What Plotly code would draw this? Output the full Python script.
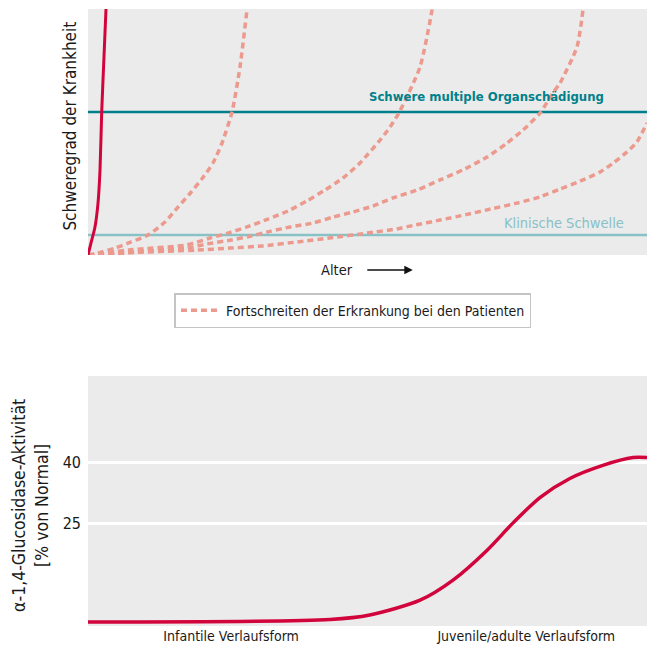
import plotly.graph_objects as go

# ---------------- data ----------------
# Top chart: disease severity vs age (0..100 arbitrary units)
red_x = [0, 0.54, 1.25, 1.79, 2.15, 2.45, 2.85, 3.22, 3.4]
red_y = [0, 4.9, 11.4, 21.1, 34.6, 58.1, 80, 100, 110]

d1_x = [0, 1.79, 4.83, 7.69, 10.73, 13.77, 16.1, 18.25, 20.39, 22.36, 23.97, 25.76, 27.19, 28.44, 28.9]
d1_y = [0, 0.8, 2.8, 5.3, 8.1, 13.4, 19.5, 25.0, 31.0, 37.4, 45.5, 58.1, 76.4, 99.6, 108]

d2_x = [0, 8.05, 17.7, 21.82, 25.04, 28.44, 32.2, 35.78, 39.18, 42.4, 45.62, 48.66, 52.24, 54.03, 55.7, 59.39, 61.54, 62.0]
d2_y = [0, 2.2, 4.1, 6.9, 8.9, 11.4, 14.6, 17.9, 22.0, 26.4, 31.3, 37.4, 46.7, 52.0, 58.1, 76.4, 99.6, 108]

d3_x = [0, 17.7, 21.29, 25.4, 28.98, 32.56, 36.14, 40.25, 43.83, 47.41, 50.98, 54.56, 58.86, 62.97, 67.08,
        71.38, 74.96, 77.82, 80.86, 83.18, 84.44, 87.48, 88.55, 88.9]
d3_y = [0, 2.8, 4.5, 6.0, 7.6, 9.6, 11.4, 13.0, 15.4, 17.5, 19.9, 23.2, 26.4, 30.5, 34.6,
        39.8, 45.5, 50.8, 57.7, 65.9, 69.9, 84.6, 99.6, 108]

d4_x = [0, 8.05, 19.5, 25.4, 31.31, 37.39, 43.83, 49.91, 55.28, 58.14, 62.97, 67.8, 72.45, 76.74, 80.86,
        84.44, 88.01, 91.59, 93.92, 96.42, 98.21, 100]
d4_y = [0, 1.0, 2.0, 2.8, 3.7, 5.3, 7.1, 8.9, 10.6, 12.0, 14.2, 16.5, 18.9, 21.1, 23.6,
        26.8, 30.0, 33.7, 37.3, 41.9, 46.0, 53.7]

severe_level = 58.1
clinical_level = 8.1

# Bottom chart: enzyme activity
act_x = [0, 43.3, 50.4, 59.4, 65.3, 71.4, 76.0, 80.9, 86.2, 92.1, 97.5, 100]
act_y = [1.0, 1.6, 2.7, 6.3, 11.2, 18.5, 25.1, 31.4, 36.0, 39.2, 41.1, 41.1]
act_ticks = [25, 40]
form_ticks = [25.6, 78.4]
form_labels = ["Infantile Verlaufsform", "Juvenile/adulte Verlaufsform"]

FONT = "Liberation Sans Narrow, DejaVu Sans Condensed, Arial Narrow, sans-serif"
DASH_COLOR = "#ec998e"
RED = "#d2043c"
TEAL = "#00808a"
LIGHT_TEAL = "#88c1c6"
BG = "#ebebeb"

fig = go.Figure()

# threshold lines (top chart)
fig.add_trace(go.Scatter(x=[0, 100], y=[severe_level, severe_level], mode="lines",
                         line=dict(color=TEAL, width=2.5), showlegend=False,
                         xaxis="x", yaxis="y", hoverinfo="skip"))
fig.add_trace(go.Scatter(x=[0, 100], y=[clinical_level, clinical_level], mode="lines",
                         line=dict(color=LIGHT_TEAL, width=2.5), showlegend=False,
                         xaxis="x", yaxis="y", hoverinfo="skip"))

dashed = [(d1_x, d1_y), (d2_x, d2_y), (d3_x, d3_y), (d4_x, d4_y)]
for i, (dx, dy) in enumerate(dashed):
    fig.add_trace(go.Scatter(
        x=dx, y=dy, mode="lines",
        line=dict(color=DASH_COLOR, width=3.5, dash="6px,4px", shape="spline", smoothing=0.6),
        name="Fortschreiten der Erkrankung bei den Patienten",
        legendgroup="prog", showlegend=(i == 0),
        xaxis="x", yaxis="y"))

fig.add_trace(go.Scatter(x=red_x, y=red_y, mode="lines",
                         line=dict(color=RED, width=3, shape="spline", smoothing=0.6),
                         showlegend=False, xaxis="x", yaxis="y"))

# bottom chart curve
fig.add_trace(go.Scatter(x=act_x, y=act_y, mode="lines",
                         line=dict(color=RED, width=3.5, shape="spline", smoothing=0.8),
                         showlegend=False, xaxis="x2", yaxis="y2"))

fig.update_layout(
    width=647, height=647,
    margin=dict(l=88, r=0, t=9, b=21),
    paper_bgcolor="white",
    plot_bgcolor=BG,
    font=dict(family=FONT, size=14, color="#1a1a1a"),
    xaxis=dict(domain=[0, 1], range=[0, 100], showgrid=False, zeroline=False,
               showticklabels=False, ticks=""),
    yaxis=dict(domain=[0.6013, 1], range=[0, 100], showgrid=False, zeroline=False,
               showticklabels=False, ticks=""),
    xaxis2=dict(domain=[0, 1], range=[0, 100], anchor="y2", showgrid=False, zeroline=False,
                tickvals=form_ticks, ticktext=form_labels, ticks="",
                tickfont=dict(size=14, color="#1a1a1a")),
    yaxis2=dict(domain=[0, 0.4052], range=[0, 61], anchor="x2", showgrid=True,
                gridcolor="white", gridwidth=2.5, zeroline=False,
                tickvals=act_ticks, ticks="", ticklabelstandoff=6,
                tickfont=dict(size=16, color="#1a1a1a")),
    legend=dict(x=0.474, y=0.511, xanchor="center", yanchor="middle",
                bordercolor="#c4c4c4", borderwidth=1.5, bgcolor="white",
                font=dict(size=14, color="#1a1a1a"), itemwidth=40),
    showlegend=True,
)

fig.add_annotation(x=92.7, y=64.6, xref="x", yref="y", text="<b>Schwere multiple Organschädigung</b>",
                   showarrow=False, xanchor="right", yanchor="middle",
                   font=dict(size=13, color=TEAL))
fig.add_annotation(x=96.2, y=13, xref="x", yref="y", text="Klinische Schwelle",
                   showarrow=False, xanchor="right", yanchor="middle",
                   font=dict(size=14.5, color=LIGHT_TEAL))

# axis titles
fig.add_annotation(x=-0.032, y=0.8096, xref="paper", yref="paper", text="Schweregrad der Krankheit",
                   textangle=-90, showarrow=False, xanchor="center", yanchor="middle",
                   font=dict(size=17, color="#1a1a1a"))
fig.add_annotation(x=-0.104, y=0.196, xref="paper", yref="paper",
                   text="α-1,4-Glucosidase-Aktivität<br>[% von Normal]",
                   textangle=-90, showarrow=False, xanchor="center", yanchor="middle",
                   font=dict(size=17.5, color="#1a1a1a"))

# "Alter" with arrow
fig.add_annotation(x=0.445, y=0.577, xref="paper", yref="paper", text="Alter",
                   showarrow=False, xanchor="center", yanchor="middle",
                   font=dict(size=14.5, color="#1a1a1a"))
fig.add_annotation(x=0.581, y=0.577, xref="paper", yref="paper", text="",
                   showarrow=True, ax=-47, ay=0, arrowhead=2, arrowsize=1.3,
                   arrowwidth=1.3, arrowcolor="#111111", standoff=0)

fig.write_html("out.html", config={"displayModeBar": False},
               post_script="document.body.style.margin='0px';document.body.style.overflow='hidden';")
